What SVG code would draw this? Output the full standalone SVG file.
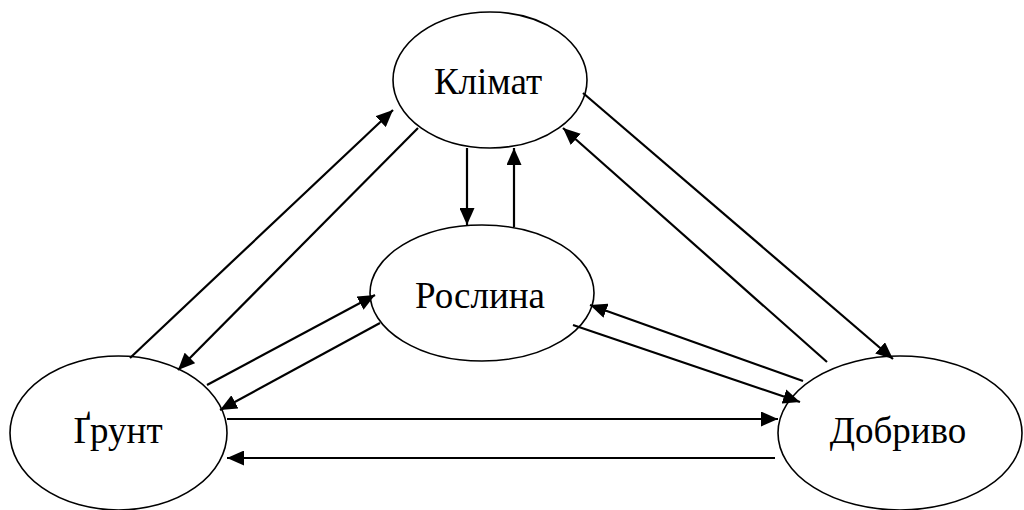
<svg xmlns="http://www.w3.org/2000/svg" width="1024" height="510" viewBox="0 0 1024 510">
<style>
.node ellipse{fill:#fff;stroke:#000;stroke-width:1.6}
.node text{font-family:"Liberation Serif","Times New Roman",serif;font-size:37px;fill:#000;text-anchor:middle}
.edges line{stroke:#000;stroke-width:2.2;marker-end:url(#ah)}
</style>
<defs>
<marker id="ah" viewBox="0 0 17 15" refX="17" refY="7.5" markerWidth="17" markerHeight="15" markerUnits="userSpaceOnUse" orient="auto">
<path d="M0,0 L17,7.5 L0,15 Z" fill="#000"/>
</marker>
</defs>
<rect width="1024" height="510" fill="#fff"/>
<g id="n-klimat" class="node"><ellipse cx="490" cy="80" rx="97" ry="68"/><text x="488" y="94">Клімат</text></g>
<g id="n-roslyna" class="node"><ellipse cx="482" cy="293" rx="112" ry="68"/><text x="480" y="308">Рослина</text></g>
<g id="n-grunt" class="node"><ellipse cx="118.5" cy="433" rx="108.5" ry="77"/><text x="118" y="443">Ґрунт</text></g>
<g id="n-dobrivo" class="node"><ellipse cx="900" cy="433" rx="122" ry="77"/><text x="898" y="443">Добриво</text></g>
<g id="edges" class="edges">
<line x1="130" y1="358" x2="393" y2="110"/>
<line x1="418" y1="128" x2="178" y2="370"/>
<line x1="207" y1="385" x2="375" y2="295"/>
<line x1="380" y1="323" x2="220" y2="410"/>
<line x1="227" y1="419" x2="778" y2="419"/>
<line x1="775" y1="458" x2="227" y2="458"/>
<line x1="467" y1="148" x2="467" y2="225"/>
<line x1="514" y1="227" x2="514" y2="148"/>
<line x1="583" y1="93" x2="893" y2="359"/>
<line x1="827" y1="362" x2="563" y2="128"/>
<line x1="803" y1="381" x2="590" y2="305"/>
<line x1="573" y1="325" x2="800" y2="402"/>
</g>
</svg>
